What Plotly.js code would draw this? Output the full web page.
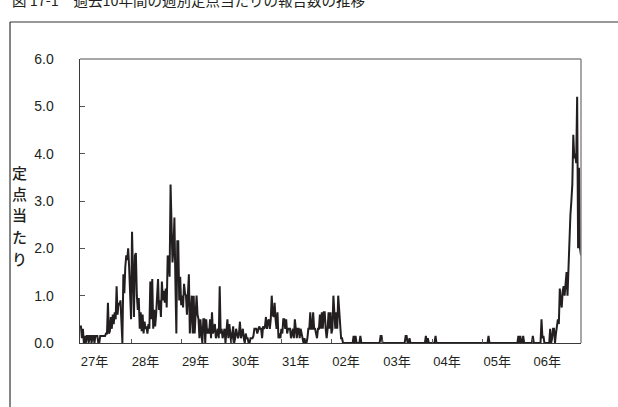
<!DOCTYPE html>
<html>
<head>
<meta charset="utf-8">
<script src="https://cdn.plot.ly/plotly-3.0.1.min.js"></script>
<style>html,body{margin:0;padding:0;background:#fff;}#chart{width:618px;height:407px;}</style>
</head>
<body>
<div id="chart"></div>
<script>
// Weekly reports per sentinel site, by year (H27=2015 ... R6=2024)
const y2015 = [0.35,0.35,0.1,0.3,0.0,0.15,0.0,0.15,0.15,0.0,0.15,0.15,0.0,0.15,0.15,0.0,0.15,0.15,0.15,0.0,0.0,0.15,0.15,0.15,0.15,0.15,0.15,0.2,0.2,0.85,0.2,0.25,0.55,0.3,0.6,0.4,0.65,0.5,1.2,0.6,0.85,0.8,0.9,0.45,0.0,1.45,1.05,1.6,1.85,1.75,2.0,1.6,1.2];
const y2016 = [0.5,2.35,1.2,0.55,1.85,1.9,1.0,0.7,0.95,0.3,0.65,0.25,0.6,0.2,0.45,0.3,0.35,0.2,0.4,0.3,1.3,0.5,1.35,0.3,0.7,0.35,0.6,0.9,1.35,0.7,0.9,0.55,1.3,0.9,1.1,0.85,1.15,0.75,1.85,1.75,1.4,3.35,2.2,1.7,2.0,2.65,1.3,0.2,2.15,2.15,0.9,1.4];
const y2017 = [0.8,1.0,0.75,1.25,1.05,1.0,0.6,1.0,1.45,0.2,0.8,1.0,0.2,1.0,0.2,0.5,1.0,0.6,0.5,0.1,0.5,0.2,0.0,0.5,0.5,0.0,0.5,0.2,0.3,0.2,0.5,0.1,0.65,0.2,0.3,0.4,0.1,0.2,0.3,0.1,1.2,0.2,0.3,0.1,0.2,0.3,0.0,0.2,0.5,0.1,0.4,0.2];
const y2018 = [0.0,0.2,0.35,0.0,0.1,0.3,0.2,0.1,0.2,0.45,0.1,0.2,0.3,0.1,0.0,0.2,0.1,0.1,0.0,0.0,0.1,0.1,0.1,0.15,0.3,0.3,0.3,0.2,0.3,0.35,0.3,0.3,0.1,0.35,0.3,0.35,0.55,0.3,0.45,0.5,0.3,0.5,1.0,0.6,0.55,0.85,0.5,0.3,0.65,0.1,0.2,0.1];
const y2019 = [0.3,0.2,0.5,0.5,0.3,0.5,0.2,0.3,0.3,0.3,0.1,0.2,0.3,0.1,0.5,0.3,0.1,0.3,0.3,0.1,0.3,0.2,0.1,0.0,0.1,0.0,0.0,0.1,0.3,0.3,0.65,0.3,0.3,0.65,0.3,0.3,0.2,0.1,0.3,0.3,0.6,0.3,0.65,0.3,0.65,0.65,0.3,0.1,0.3,0.65,0.3,0.65];
const y2020 = [0.2,0.3,1.0,0.6,0.3,0.65,0.3,1.0,0.6,0.3,0.1,0.1,0.0,0,0,0,0,0,0,0,0,0,0,0.15,0,0.15,0,0,0,0,0.15,0,0,0,0,0,0,0,0,0,0,0,0,0,0,0,0,0,0,0,0,0.15,0.15];
const y2021 = [0,0,0,0,0,0,0,0,0,0,0,0,0,0,0,0,0,0,0,0,0,0,0,0,0.15,0.15,0,0,0.1,0,0,0,0,0,0,0,0,0,0,0,0,0,0,0,0,0.15,0,0.1,0,0,0,0];
const y2022 = [0,0,0,0.15,0,0,0,0,0,0,0,0,0,0,0,0,0,0,0,0,0,0,0,0,0,0,0,0,0,0,0,0,0,0,0,0,0,0,0,0,0,0,0,0,0,0,0,0,0,0,0,0];
const y2023 = [0,0,0,0,0,0,0.15,0,0,0,0,0,0,0,0,0,0,0,0,0,0,0,0,0,0,0,0,0,0,0,0,0,0,0,0,0,0,0.15,0,0.15,0,0,0.15,0,0,0,0,0,0,0,0,0];
const y2024 = [0.15,0,0,0,0,0,0,0,0,0.5,0.1,0.15,0,0,0,0,0,0,0.3,0,0.1,0.3,0.3,0,0.2,0.35,0.5,0.4,1.15,0.9,0.75,1.1,1.2,1.0,1.3,1.5,1.0,1.6,2.4,2.7,3.0,3.35,4.4,3.9,4.0,3.8,5.2,2.0,3.7,2.0,1.85];

const years = [y2015,y2016,y2017,y2018,y2019,y2020,y2021,y2022,y2023,y2024];
const yearLabels = ['27年','28年','29年','30年','31年','02年','03年','04年','05年','06年'];
const yTicks = [0,1,2,3,4,5,6];
const yTitle = '定点当たり';
const chartTitle = '図 17-1　過去10年間の週別定点当たりの報告数の推移';

const values = [].concat(...years);
const weekIndex = values.map((v,i)=>i);
const yearStarts = [];
let acc = 0;
years.forEach(a=>{ yearStarts.push(acc); acc += a.length; });
const labelPos = yearStarts.map(s=>s+15);
const lastIdx = values.length-1;

const fontLat = 'Liberation Sans, Arial, "Noto Sans CJK JP", sans-serif';
const fontJp = '"Noto Sans CJK JP", sans-serif';
const ink = '#231f20';

const traces = [
  {x: weekIndex, y: values, type:'scatter', mode:'lines',
   line:{color:ink, width:2}, hoverinfo:'skip', xaxis:'x', yaxis:'y'},
  {x: [0, lastIdx], y: [null, null], type:'scatter', mode:'lines', xaxis:'x2', yaxis:'y', hoverinfo:'skip', showlegend:false}
];

// plot area: left 80, top 59, height 284 px
const plotTop = 59, plotH = 284;
const pyToPaper = py => (plotTop + plotH - py) / plotH;

const titleChars = Array.from(yTitle).map((ch,k)=>({
  text: ch, xref:'paper', yref:'paper', x:-0.12, y: pyToPaper(172 + k*21.5),
  xanchor:'center', yanchor:'middle', showarrow:false,
  font:{family:fontJp, size:15, color:ink, weight:500}
}));

const layout = {
  width:618, height:407,
  margin:{l:80, r:37, t:59, b:64, pad:0},
  paper_bgcolor:'#fff', plot_bgcolor:'#fff',
  showlegend:false,
  xaxis:{range:[0,lastIdx], tickmode:'array', tickvals:labelPos, ticktext:yearLabels,
    ticks:'', showgrid:false, zeroline:false, showline:true, linecolor:'#3a3a3a', linewidth:1.2,
    tickfont:{family:fontLat, size:13, color:ink}, ticklabelstandoff:6},
  xaxis2:{overlaying:'x', matches:'x', range:[0,lastIdx], tickmode:'array', tickvals:yearStarts.slice(1),
    ticks:'inside', ticklen:4, tickcolor:'#555', tickwidth:1, showticklabels:false, showgrid:false,
    zeroline:false, showline:false},
  yaxis:{range:[0,6], tickmode:'array', tickvals:yTicks, tickformat:'.1f',
    ticks:'inside', ticklen:5, tickcolor:'#555', tickwidth:1,
    showgrid:false, zeroline:false, showline:true, linecolor:'#3a3a3a', linewidth:1.5,
    tickfont:{family:fontLat, size:14, color:ink}, ticklabelstandoff:22},
  annotations:[
    ...titleChars,
    {text: chartTitle, xref:'paper', yref:'paper',
     x:-0.14, y:pyToPaper(0), xanchor:'left', yanchor:'middle', showarrow:false,
     font:{family:fontJp, size:14.5, color:ink}}
  ],
  shapes:[
    {type:'line', xref:'paper', yref:'paper', x0:0, x1:1, y0:1, y1:1, line:{color:'#8a8a8a', width:1.5}},
    {type:'line', xref:'paper', yref:'paper', x0:1, x1:1, y0:0, y1:1, line:{color:'#8a8a8a', width:1.5}},
    {type:'line', xref:'paper', yref:'paper', x0:-0.1397, x1:1.08, y0:pyToPaper(22), y1:pyToPaper(22), line:{color:'#333', width:1.2}},
    {type:'line', xref:'paper', yref:'paper', x0:-0.1397, x1:-0.1397, y0:-0.3, y1:pyToPaper(22), line:{color:'#333', width:1.2}}
  ]
};

Plotly.newPlot('chart', traces, layout, {displayModeBar:false, staticPlot:true});
</script>
</body>
</html>
